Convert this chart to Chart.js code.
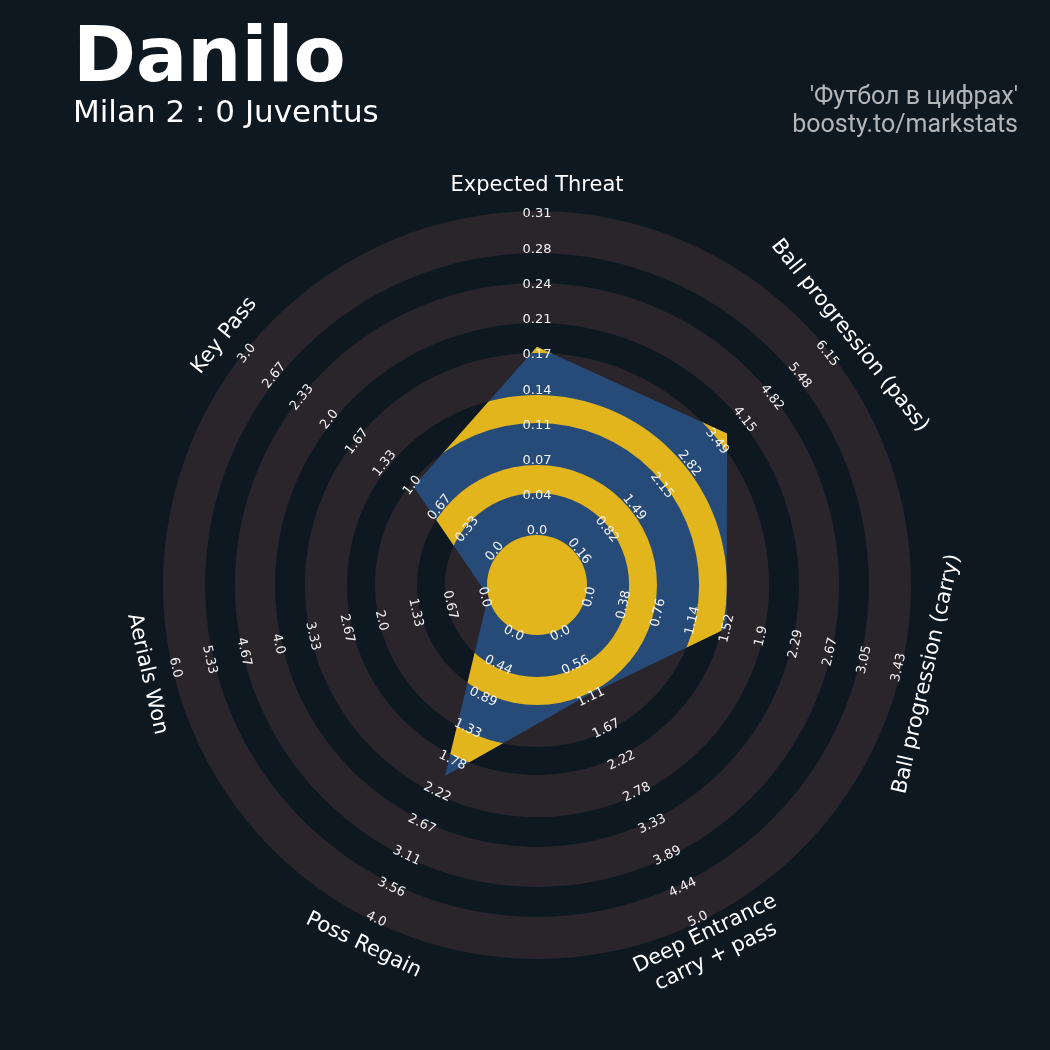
<!DOCTYPE html>
<html>
<head>
<meta charset="utf-8">
<script src="https://cdn.jsdelivr.net/npm/chart.js@4.4.1/dist/chart.umd.min.js"></script>
<style>
  html, body { margin: 0; padding: 0; background: #0e1821; }
  canvas { display: block; }
</style>
</head>
<body>
<canvas id="radar" width="1050" height="1050"></canvas>
<script>
// параметры радара (по часовой стрелке от верха)
const params = ['Expected Threat', 'Ball progression (pass)', 'Ball progression (carry)',
  ['Deep Entrance', 'carry + pass'], 'Poss Regain', 'Aerials Won', 'Key Pass'];

// значения игрока
const playerValues = [0.18, 3.73, 1.53, 1.10, 2.0, 0.0, 1.0];

// подписи шкал по каждой оси (от центра наружу)
const ticksXT = ['0.0', '0.04', '0.07', '0.11', '0.14', '0.17', '0.21', '0.24', '0.28', '0.31'];
const ticksPass = ['0.16', '0.82', '1.49', '2.15', '2.82', '3.49', '4.15', '4.82', '5.48', '6.15'];
const ticksCarry = ['0.0', '0.38', '0.76', '1.14', '1.52', '1.9', '2.29', '2.67', '3.05', '3.43'];
const ticksDeep = ['0.0', '0.56', '1.11', '1.67', '2.22', '2.78', '3.33', '3.89', '4.44', '5.0'];
const ticksRegain = ['0.0', '0.44', '0.89', '1.33', '1.78', '2.22', '2.67', '3.11', '3.56', '4.0'];
const ticksAerials = ['0.0', '0.67', '1.33', '2.0', '2.67', '3.33', '4.0', '4.67', '5.33', '6.0'];
const ticksKey = ['0.0', '0.33', '0.67', '1.0', '1.33', '1.67', '2.0', '2.33', '2.67', '3.0'];

const tickLabels = [ticksXT, ticksPass, ticksCarry, ticksDeep, ticksRegain, ticksAerials, ticksKey];

const playerName = 'Danilo';
const matchTitle = 'Milan 2 : 0 Juventus';
const credits = ["'Футбол в цифрах'", 'boosty.to/markstats'];

// цвета
const bgColor = '#0e1821';
const ringColor = '#29252b';
const blueColor = '#274b78';
const yellowColor = '#e3b51d';

// кольца (доля радиуса от 0 до 1), серые полосы
const grayBands = [[0, 0.13], [0.216, 0.346], [0.432, 0.562], [0.654, 0.778], [0.87, 1]];
const gapBands = [[0.13, 0.216], [0.346, 0.432], [0.562, 0.654], [0.778, 0.87]];

// нормализация значений по диапазону осей
const normalized = playerValues.map((v, i) => {
  let lo = parseFloat(tickLabels[i][0]),
      hi = parseFloat(tickLabels[i][tickLabels[i].length - 1]);
  return (v - lo) / (hi - lo);
});

const textRotation = (i) => {
  let a = i * 360 / params.length;
  if (a > 90 && a < 270) a -= 180;
  else if (a >= 270) a -= 360;
  return a * Math.PI / 180;
};

const annulus = (ctx, cx, cy, r1, r2) => {
  ctx.beginPath();
  ctx.arc(cx, cy, r2, 0, Math.PI * 2);
  ctx.arc(cx, cy, r1, 0, Math.PI * 2, true);
  ctx.closePath();
};

const radarDecor = {
  id: 'radarDecor',
  beforeDraw(chart) {
    const ctx = chart.ctx;
    ctx.save();
    ctx.fillStyle = bgColor;
    ctx.fillRect(0, 0, chart.width, chart.height);

    ctx.fillStyle = '#ffffff';
    ctx.textAlign = 'left';
    ctx.textBaseline = 'alphabetic';
    ctx.font = 'bold 76px "DejaVu Sans"';
    ctx.fillText(playerName, 73, 81);
    ctx.font = '31px "DejaVu Sans"';
    ctx.fillText(matchTitle, 73, 122);

    ctx.fillStyle = '#b3b6b9';
    ctx.textAlign = 'right';
    ctx.font = '25px Roboto';
    ctx.fillText(credits[0], 1018, 104);
    ctx.fillText(credits[1], 1018, 132);
    ctx.restore();
  },
  beforeDatasetsDraw(chart) {
    const ctx = chart.ctx, sc = chart.scales.r;
    ctx.save();
    ctx.fillStyle = ringColor;
    grayBands.forEach(([a, b]) => {
      annulus(ctx, sc.xCenter, sc.yCenter, sc.getDistanceFromCenterForValue(a), sc.getDistanceFromCenterForValue(b));
      ctx.fill();
    });
    ctx.restore();
  },
  afterDatasetsDraw(chart) {
    const ctx = chart.ctx, sc = chart.scales.r,
          pts = chart.getDatasetMeta(0).data;
    const cx = sc.xCenter, cy = sc.yCenter;

    // жёлтые полосы внутри многоугольника
    ctx.save();
    ctx.beginPath();
    pts.forEach((p, i) => i ? ctx.lineTo(p.x, p.y) : ctx.moveTo(p.x, p.y));
    ctx.closePath();
    ctx.clip();
    ctx.fillStyle = yellowColor;
    gapBands.forEach(([a, b]) => {
      annulus(ctx, cx, cy, sc.getDistanceFromCenterForValue(a), sc.getDistanceFromCenterForValue(b));
      ctx.fill();
    });
    ctx.restore();

    // центральный круг
    ctx.save();
    ctx.fillStyle = yellowColor;
    ctx.beginPath();
    ctx.arc(cx, cy, sc.getDistanceFromCenterForValue(0), 0, Math.PI * 2);
    ctx.fill();

    // подписи шкал
    ctx.fillStyle = '#f2f2f2';
    ctx.textAlign = 'center';
    ctx.textBaseline = 'middle';
    ctx.font = '13px "DejaVu Sans"';
    tickLabels.forEach((labels, i) => {
      labels.forEach((txt, k) => {
        let pos = sc.getPointPositionForValue(i, 0.012 + k * 0.979 / (labels.length - 1));
        ctx.save();
        ctx.translate(pos.x, pos.y);
        ctx.rotate(textRotation(i));
        ctx.fillText(txt, 0, 0);
        ctx.restore();
      });
    });

    // названия параметров
    ctx.fillStyle = '#ffffff';
    ctx.font = '21px "DejaVu Sans"';
    params.forEach((name, i) => {
      let pos = sc.getPointPositionForValue(i, 1.08),
          lines = Array.isArray(name) ? name : [name];
      ctx.save();
      ctx.translate(pos.x, pos.y);
      ctx.rotate(textRotation(i));
      lines.forEach((ln, j) => ctx.fillText(ln, 0, (j - (lines.length - 1) / 2) * 25));
      ctx.restore();
    });
    ctx.restore();
  }
};

new Chart(document.getElementById('radar').getContext('2d'), {
  type: 'radar',
  data: {
    labels: params,
    datasets: [{
      data: normalized,
      backgroundColor: blueColor,
      borderWidth: 0,
      pointRadius: 0,
      fill: 'start',
      tension: 0
    }]
  },
  options: {
    responsive: false,
    animation: false,
    layout: { padding: { left: 163, right: 139, top: 211, bottom: 91 } },
    plugins: { legend: { display: false }, tooltip: { enabled: false } },
    scales: {
      r: {
        min: -50 / 324,
        max: 1,
        angleLines: { display: false },
        grid: { display: false },
        ticks: { display: false },
        pointLabels: { display: false }
      }
    }
  },
  plugins: [radarDecor]
});
</script>
</body>
</html>
